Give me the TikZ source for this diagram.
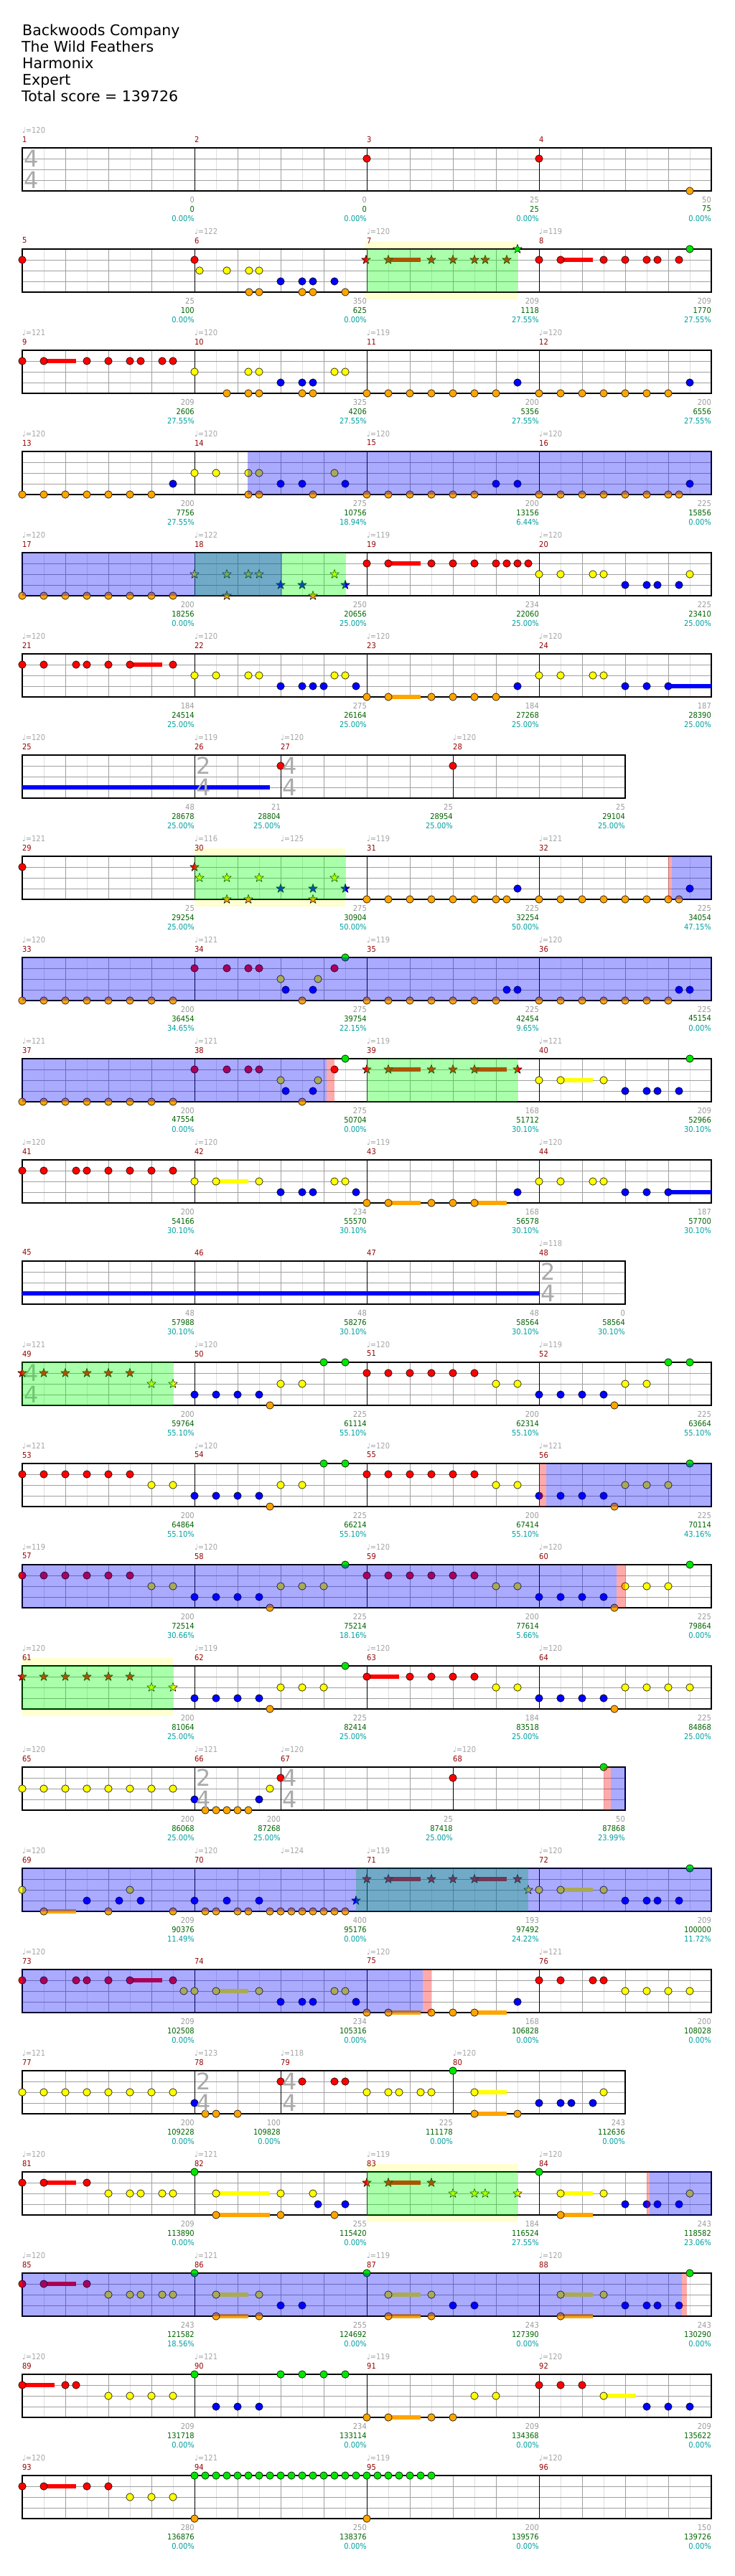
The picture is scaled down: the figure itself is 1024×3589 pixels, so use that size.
\documentclass[tikz,border=0pt]{standalone}
\usepackage{fontspec}
\setmainfont{DejaVu Sans}
\newfontfamily\smallf[FakeStretch=0.9]{DejaVu Sans}
\definecolor{lc0}{RGB}{0,230,0}
\definecolor{lc1}{RGB}{255,0,0}
\definecolor{lc2}{RGB}{255,255,0}
\definecolor{lc3}{RGB}{0,0,255}
\definecolor{lc4}{RGB}{255,165,0}
\definecolor{ovg}{RGB}{0,255,0}
\definecolor{ovb}{RGB}{0,0,255}
\definecolor{ovr}{RGB}{255,0,0}
\definecolor{mnumc}{RGB}{150,0,0}
\definecolor{tempoc}{RGB}{165,165,165}
\definecolor{sgray}{RGB}{155,155,155}
\definecolor{sgreen}{RGB}{0,100,0}
\definecolor{steal}{RGB}{0,160,160}
\definecolor{gridd}{RGB}{160,160,160}
\definecolor{gridl}{RGB}{222,222,222}
\definecolor{ybgc}{RGB}{255,255,208}
\definecolor{tsig}{RGB}{170,170,170}
\tikzset{
  notest/.style={draw=black,line width=0.6pt},
  starst/.style={draw=black,line width=0.5pt},
  mnum/.style={anchor=west,inner sep=0pt,text=mnumc,font=\smallf\fontsize{11}{13}\selectfont},
  tempo/.style={anchor=west,inner sep=0pt,text=tempoc,font=\smallf\fontsize{11}{13}\selectfont},
  bgray/.style={anchor=east,inner sep=0pt,text=sgray,font=\smallf\fontsize{11}{13}\selectfont},
  bgreen/.style={anchor=east,inner sep=0pt,text=sgreen,font=\smallf\fontsize{11}{13}\selectfont},
  bteal/.style={anchor=east,inner sep=0pt,text=steal,font=\smallf\fontsize{11}{13}\selectfont},
  tsg/.style={inner sep=0pt,text=tsig,font=\fontsize{32}{32}\selectfont},
  titlest/.style={anchor=base west,inner sep=0pt,font=\fontsize{20.5}{23}\selectfont}
}
% staff: #1 end x, #2 list of inner measure lines
\newcommand\staff[2]{%
  \fill[white] (31,0) rectangle (#1,60);
  \foreach \xx in {61,121,...,#1}{\draw[gridl,line width=0.9pt] (\xx,0)--(\xx,60);}
  \foreach \xx in {91,151,...,#1}{\draw[gridd,line width=0.9pt] (\xx,0)--(\xx,60);}
  \foreach \yy in {15,30,45}{\draw[gridd,line width=0.9pt] (31,\yy)--(#1,\yy);}
  \foreach \xx in {#2}{\draw[black,line width=0.9pt] (\xx,0)--(\xx,60);}
  \draw[black,line width=1.1pt] (31,0) rectangle (#1,60);}
\newcommand\nn[2]{\foreach \xx in {#2}{\filldraw[notest,fill=lc#1] (\xx,#1*15) circle[radius=5.2pt];}}
\newcommand\starpath{+(90:6.5pt) -- +(126:2.7pt) -- +(162:6.5pt) -- +(198:2.7pt) -- +(234:6.5pt) -- +(270:2.7pt) -- +(306:6.5pt) -- +(342:2.7pt) -- +(18:6.5pt) -- +(54:2.7pt) -- cycle}
\newcommand\sn[2]{\foreach \xx in {#2}{\filldraw[starst,fill=lc#1] (\xx,#1*15) \starpath;}}
\newcommand\su[3]{\fill[lc#1] (#2,{#1*15-3.2}) rectangle (#3,{#1*15+3.2});}
\newcommand\gov[2]{\fill[ovg,fill opacity=0.3333] (#1,0) rectangle (#2,60);}
\newcommand\bov[2]{\fill[ovb,fill opacity=0.3333] (#1,0) rectangle (#2,60);}
\newcommand\pov[2]{\fill[ovr,fill opacity=0.3333] (#1,0) rectangle (#2,60);}
\newcommand\ybg[2]{\fill[ybgc] (#1,-11) rectangle (#2,70);}
\newcommand\mn[2]{\node[mnum] (mn#2) at (#1,-12) {#2};}
\newcommand\tp[3]{\node[tempo] (tp#3) at (#1,-25) {♩=#2};}
\newcommand\bt[5]{\node[bgray] (ba#2) at (#1,72) {#3};
  \node[bgreen] (bb#2) at (#1,85) {#4};
  \node[bteal] (bc#2) at (#1,98) {#5\%};}
\newcommand\ts[4]{\node[tsg] (tsa#4) at (#1+13,15) {#2}; \node[tsg] (tsb#4) at (#1+13,45) {#3};}
\begin{document}
\begin{tikzpicture}[x=1pt,y=-1pt]
\useasboundingbox (0,0) rectangle (1024,3589);
\fill[white] (0,0) rectangle (1024,3589);
\node[titlest] (t1) at (31,50) {Backwoods Company};
\node[titlest] (t2) at (30,73) {The Wild Feathers};
\node[titlest] (t3) at (31,96) {Harmonix};
\node[titlest] (t4) at (31,119) {Expert};
\node[titlest] (t5) at (30,142) {Total score = 139726};
% ---------------- Row 1
\begin{scope}[yshift=-206pt]
\staff{991}{271,511,751}
\mn{31}{1}\mn{271}{2}\mn{511}{3}\mn{751}{4}
\tp{31}{120}{1}
\nn{1}{511,751}\nn{4}{961}
\ts{31}{4}{4}{1}
\bt{271}{1}{0}{0}{0.00}\bt{511}{2}{0}{0}{0.00}\bt{751}{3}{25}{25}{0.00}\bt{991}{4}{50}{75}{0.00}
\end{scope}
% ---------------- Row 2
\begin{scope}[yshift=-347pt]
\ybg{509}{721}
\staff{991}{271,511,751}
\mn{31}{5}\mn{271}{6}\mn{511}{7}\mn{751}{8}
\tp{271}{122}{6}\tp{511}{120}{7}\tp{751}{119}{8}
\su{1}{541}{586}\su{1}{781}{826}
\nn{1}{31,271,751,781,841,871,901,916,946}
\nn{2}{278,316,347,361}
\nn{3}{391,421,436,466}
\nn{4}{347,361,421,436,481}
\nn{0}{961}
\sn{1}{510,541,601,631,661,676,706}\sn{0}{721}
\gov{511}{721}
\bt{271}{5}{25}{100}{0.00}\bt{511}{6}{350}{625}{0.00}\bt{751}{7}{209}{1118}{27.55}\bt{991}{8}{209}{1770}{27.55}
\end{scope}
% ---------------- Row 3
\begin{scope}[yshift=-488pt]
\staff{991}{271,511,751}
\mn{31}{9}\mn{271}{10}\mn{511}{11}\mn{751}{12}
\tp{31}{121}{9}\tp{271}{120}{10}\tp{511}{119}{11}\tp{751}{120}{12}
\su{1}{61}{106}
\nn{1}{31,61,121,151,181,196,226,241}
\nn{2}{271,346,361,466,481}
\nn{3}{391,421,436,721,961}
\nn{4}{316,346,361,421,436,511,541,571,601,631,661,691,751,781,811,841,871,901,931}
\bt{271}{9}{209}{2606}{27.55}\bt{511}{10}{325}{4206}{27.55}\bt{751}{11}{200}{5356}{27.55}\bt{991}{12}{200}{6556}{27.55}
\end{scope}
% ---------------- Row 4
\begin{scope}[yshift=-629pt]
\staff{991}{271,511,751}
\mn{31}{13}\mn{271}{14}\mn{511}{15}\mn{751}{16}
\tp{31}{120}{13}\tp{271}{120}{14}\tp{511}{120}{15}\tp{751}{120}{16}
\nn{4}{31,61,91,121,151,181,211,346,361,436,511,541,571,601,631,661,751,781,811,841,871,901,931,946}
\nn{3}{241,391,421,481,691,721,961}
\nn{2}{271,301,346,361,466}
\bov{345}{991}
\bt{271}{13}{200}{7756}{27.55}\bt{511}{14}{275}{10756}{18.94}\bt{751}{15}{200}{13156}{6.44}\bt{991}{16}{225}{15856}{0.00}
\end{scope}
% ---------------- Row 5
\begin{scope}[yshift=-770pt]
\staff{991}{271,511,751}
\mn{31}{17}\mn{271}{18}\mn{511}{19}\mn{751}{20}
\tp{31}{120}{17}\tp{271}{122}{18}\tp{511}{119}{19}\tp{751}{120}{20}
\nn{4}{31,61,91,121,151,181,211,241}
\sn{2}{271,316,346,361,466}\sn{3}{391,421,481}\sn{4}{316,436}
\su{1}{541}{586}
\nn{1}{511,541,601,631,661,691,706,721,736}
\nn{2}{751,781,826,841,961}
\nn{3}{871,901,916,946}
\gov{271}{481}\bov{31}{393}
\bt{271}{17}{200}{18256}{0.00}\bt{511}{18}{250}{20656}{25.00}\bt{751}{19}{234}{22060}{25.00}\bt{991}{20}{225}{23410}{25.00}
\end{scope}
% ---------------- Row 6
\begin{scope}[yshift=-911pt]
\staff{991}{271,511,751}
\mn{31}{21}\mn{271}{22}\mn{511}{23}\mn{751}{24}
\tp{31}{120}{21}\tp{271}{120}{22}\tp{511}{120}{23}\tp{751}{120}{24}
\su{1}{181}{226}\su{3}{931}{991}\su{4}{541}{586}
\nn{1}{31,61,106,121,151,181,241}
\nn{2}{271,301,346,361,466,481,751,781,826,841}
\nn{3}{391,421,436,451,496,721,871,901,931}
\nn{4}{511,541,601,631,661,691}
\bt{271}{21}{184}{24514}{25.00}\bt{511}{22}{275}{26164}{25.00}\bt{751}{23}{184}{27268}{25.00}\bt{991}{24}{187}{28390}{25.00}
\end{scope}
% ---------------- Row 7
\begin{scope}[yshift=-1052pt]
\staff{871}{271,391,631}
\mn{31}{25}\mn{271}{26}\mn{391}{27}\mn{631}{28}
\tp{31}{120}{25}\tp{271}{119}{26}\tp{391}{120}{27}\tp{631}{120}{28}
\su{3}{31}{376}
\nn{1}{391,631}
\ts{271}{2}{4}{26}\ts{391}{4}{4}{27}
\bt{271}{25}{48}{28678}{25.00}\bt{391}{26}{21}{28804}{25.00}\bt{631}{27}{25}{28954}{25.00}\bt{871}{28}{25}{29104}{25.00}
\end{scope}
% ---------------- Row 8
\begin{scope}[yshift=-1193pt]
\ybg{271}{481}
\staff{991}{271,511,751}
\mn{31}{29}\mn{271}{30}\mn{511}{31}\mn{751}{32}
\tp{31}{121}{29}\tp{271}{116}{30}\tp{391}{125}{30b}\tp{511}{119}{31}\tp{751}{121}{32}
\nn{1}{31}
\sn{1}{271}\sn{2}{278,316,361,466}\sn{3}{391,436,481}\sn{4}{316,346,436}
\nn{4}{511,541,571,601,631,661,691,706,751,781,811,841,871,901,931,946}
\nn{3}{721,961}
\gov{271}{481}\pov{931}{936}\bov{936}{991}
\bt{271}{29}{25}{29254}{25.00}\bt{511}{30}{275}{30904}{50.00}\bt{751}{31}{225}{32254}{50.00}\bt{991}{32}{225}{34054}{47.15}
\end{scope}
% ---------------- Row 9
\begin{scope}[yshift=-1334pt]
\staff{991}{271,511,751}
\mn{31}{33}\mn{271}{34}\mn{511}{35}\mn{751}{36}
\tp{31}{120}{33}\tp{271}{121}{34}\tp{511}{119}{35}\tp{751}{120}{36}
\nn{4}{31,61,91,121,151,181,211,241,421,511,541,571,601,631,661,691,751,781,811,841,871,901,931}
\nn{1}{271,316,346,361,466}
\nn{2}{391,443}
\nn{3}{398,436,706,721,946,961}
\nn{0}{481}
\bov{31}{991}
\bt{271}{33}{200}{36454}{34.65}\bt{511}{34}{275}{39754}{22.15}\bt{751}{35}{225}{42454}{9.65}\bt{991}{36}{225}{45154}{0.00}
\end{scope}
% ---------------- Row 10
\begin{scope}[yshift=-1475pt]
\staff{991}{271,511,751}
\mn{31}{37}\mn{271}{38}\mn{511}{39}\mn{751}{40}
\tp{31}{121}{37}\tp{271}{121}{38}\tp{511}{119}{39}\tp{751}{121}{40}
\nn{4}{31,61,91,121,151,181,211,241,421}
\nn{1}{271,316,346,361,466}
\nn{2}{391,443}
\nn{3}{398,436,871,901,916,946}
\nn{0}{481,961}
\su{1}{541}{586}\su{1}{661}{706}
\sn{1}{511,541,601,631,661,721}
\su{2}{781}{826}
\nn{2}{751,781,841}
\gov{511}{721}\bov{31}{455}\pov{455}{466}
\bt{271}{37}{200}{47554}{0.00}\bt{511}{38}{275}{50704}{0.00}\bt{751}{39}{168}{51712}{30.10}\bt{991}{40}{209}{52966}{30.10}
\end{scope}
% ---------------- Row 11
\begin{scope}[yshift=-1616pt]
\staff{991}{271,511,751}
\mn{31}{41}\mn{271}{42}\mn{511}{43}\mn{751}{44}
\tp{31}{120}{41}\tp{271}{120}{42}\tp{511}{119}{43}\tp{751}{120}{44}
\su{2}{301}{346}\su{3}{931}{991}\su{4}{541}{586}\su{4}{661}{706}
\nn{1}{31,61,106,121,151,181,211,241}
\nn{2}{271,301,361,466,481,751,781,826,841}
\nn{3}{391,421,436,496,721,871,901,931}
\nn{4}{511,541,601,631,661}
\bt{271}{41}{200}{54166}{30.10}\bt{511}{42}{234}{55570}{30.10}\bt{751}{43}{168}{56578}{30.10}\bt{991}{44}{187}{57700}{30.10}
\end{scope}
% ---------------- Row 12
\begin{scope}[yshift=-1757pt]
\staff{871}{271,511,751}
\mn{31}{45}\mn{271}{46}\mn{511}{47}\mn{751}{48}
\tp{751}{118}{48}
\su{3}{31}{751}
\ts{751}{2}{4}{48}
\bt{271}{45}{48}{57988}{30.10}\bt{511}{46}{48}{58276}{30.10}\bt{751}{47}{48}{58564}{30.10}\bt{871}{48}{0}{58564}{30.10}
\end{scope}
% ---------------- Row 13
\begin{scope}[yshift=-1898pt]
\staff{991}{271,511,751}
\mn{31}{49}\mn{271}{50}\mn{511}{51}\mn{751}{52}
\tp{31}{121}{49}\tp{271}{120}{50}\tp{511}{120}{51}\tp{751}{119}{52}
\ts{31}{4}{4}{49}
\sn{1}{31,61,91,121,151,181}\sn{2}{211,241}
\nn{3}{271,301,331,361,751,781,811,841}
\nn{4}{376,856}
\nn{2}{391,421,691,721,871,901}
\nn{0}{451,481,931,961}
\nn{1}{511,541,571,601,631,661}
\gov{31}{241}
\bt{271}{49}{200}{59764}{55.10}\bt{511}{50}{225}{61114}{55.10}\bt{751}{51}{200}{62314}{55.10}\bt{991}{52}{225}{63664}{55.10}
\end{scope}
% ---------------- Row 14
\begin{scope}[yshift=-2039pt]
\staff{991}{271,511,751}
\mn{31}{53}\mn{271}{54}\mn{511}{55}\mn{751}{56}
\tp{31}{121}{53}\tp{271}{120}{54}\tp{511}{120}{55}\tp{751}{121}{56}
\nn{1}{31,61,91,121,151,181,511,541,571,601,631,661}
\nn{2}{211,241,391,421,691,721,871,901,931}
\nn{3}{271,301,331,361,751,781,811,841}
\nn{4}{376,856}
\nn{0}{451,481,961}
\pov{751}{761}\bov{761}{991}
\bt{271}{53}{200}{64864}{55.10}\bt{511}{54}{225}{66214}{55.10}\bt{751}{55}{200}{67414}{55.10}\bt{991}{56}{225}{70114}{43.16}
\end{scope}
% ---------------- Row 15
\begin{scope}[yshift=-2180pt]
\staff{991}{271,511,751}
\mn{31}{57}\mn{271}{58}\mn{511}{59}\mn{751}{60}
\tp{31}{119}{57}\tp{271}{120}{58}\tp{511}{120}{59}\tp{751}{120}{60}
\nn{1}{31,61,91,121,151,181,511,541,571,601,631,661}
\nn{2}{211,241,391,421,451,691,721,871,901,931}
\nn{3}{271,301,331,361,751,781,811,841}
\nn{4}{376,856}
\nn{0}{481,961}
\bov{31}{859}\pov{859}{871}
\bt{271}{57}{200}{72514}{30.66}\bt{511}{58}{225}{75214}{18.16}\bt{751}{59}{200}{77614}{5.66}\bt{991}{60}{225}{79864}{0.00}
\end{scope}
% ---------------- Row 16
\begin{scope}[yshift=-2321pt]
\ybg{31}{241}
\staff{991}{271,511,751}
\mn{31}{61}\mn{271}{62}\mn{511}{63}\mn{751}{64}
\tp{31}{120}{61}\tp{271}{119}{62}\tp{511}{120}{63}\tp{751}{120}{64}
\sn{1}{31,61,91,121,151,181}\sn{2}{211,241}
\nn{3}{271,301,331,361,751,781,811,841}
\nn{4}{376,856}
\nn{2}{391,421,451,691,721,871,901,931,961}
\nn{0}{481}
\su{1}{511}{556}\nn{1}{511,571,601,631,661}
\gov{31}{241}
\bt{271}{61}{200}{81064}{25.00}\bt{511}{62}{225}{82414}{25.00}\bt{751}{63}{184}{83518}{25.00}\bt{991}{64}{225}{84868}{25.00}
\end{scope}
% ---------------- Row 17
\begin{scope}[yshift=-2462pt]
\staff{871}{271,391,631}
\mn{31}{65}\mn{271}{66}\mn{391}{67}\mn{631}{68}
\tp{31}{120}{65}\tp{271}{121}{66}\tp{391}{120}{67}\tp{631}{120}{68}
\nn{2}{31,61,91,121,151,181,211,241,376}
\nn{3}{271,361}
\nn{4}{286,301,316,331,346}
\nn{1}{391,631}
\nn{0}{841}
\ts{271}{2}{4}{66}\ts{391}{4}{4}{67}
\pov{841}{851}\bov{851}{871}
\bt{271}{65}{200}{86068}{25.00}\bt{391}{66}{200}{87268}{25.00}\bt{631}{67}{25}{87418}{25.00}\bt{871}{68}{50}{87868}{23.99}
\end{scope}
% ---------------- Row 18
\begin{scope}[yshift=-2603pt]
\staff{991}{271,511,751}
\mn{31}{69}\mn{271}{70}\mn{511}{71}\mn{751}{72}
\tp{31}{120}{69}\tp{271}{120}{70}\tp{391}{124}{70b}\tp{511}{119}{71}\tp{751}{120}{72}
\su{4}{61}{106}\su{1}{541}{586}\su{1}{661}{706}\su{2}{781}{826}
\nn{2}{31,181,751,781,841}
\nn{4}{61,151,241,286,301,331,346,376,391,406,421,436,451,466,481}
\nn{3}{121,166,196,271,316,361,871,901,916,946}
\sn{3}{496}\sn{1}{511,541,601,631,661,721}\sn{2}{736}
\nn{0}{961}
\gov{496}{736}\bov{31}{991}
\bt{271}{69}{209}{90376}{11.49}\bt{511}{70}{400}{95176}{0.00}\bt{751}{71}{193}{97492}{24.22}\bt{991}{72}{209}{100000}{11.72}
\end{scope}
% ---------------- Row 19
\begin{scope}[yshift=-2744pt]
\staff{991}{271,511,751}
\mn{31}{73}\mn{271}{74}\mn{511}{75}\mn{751}{76}
\tp{31}{120}{73}\tp{511}{120}{75}\tp{751}{121}{76}
\su{1}{181}{226}\su{2}{301}{346}\su{4}{541}{586}\su{4}{661}{706}
\nn{1}{31,61,106,121,151,181,241,751,781,826,841}
\nn{2}{256,271,301,361,466,481,871,901,931,961}
\nn{3}{391,421,436,496,721}
\nn{4}{511,541,601,631,661}
\bov{31}{589}\pov{589}{601}
\bt{271}{73}{209}{102508}{0.00}\bt{511}{74}{234}{105316}{0.00}\bt{751}{75}{168}{106828}{0.00}\bt{991}{76}{200}{108028}{0.00}
\end{scope}
% ---------------- Row 20
\begin{scope}[yshift=-2885pt]
\staff{871}{271,391,631}
\mn{31}{77}\mn{271}{78}\mn{391}{79}\mn{631}{80}
\tp{31}{121}{77}\tp{271}{123}{78}\tp{391}{118}{79}\tp{631}{120}{80}
\su{2}{661}{706}\su{4}{661}{706}
\nn{2}{31,61,91,121,151,181,211,241,511,541,556,586,601,661,841}
\nn{3}{271,751,781,796,826}
\nn{4}{286,301,331,661,721}
\nn{1}{391,421,466,481}
\nn{0}{631}
\ts{271}{2}{4}{78}\ts{391}{4}{4}{79}
\bt{271}{77}{200}{109228}{0.00}\bt{391}{78}{100}{109828}{0.00}\bt{631}{79}{225}{111178}{0.00}\bt{871}{80}{243}{112636}{0.00}
\end{scope}
% ---------------- Row 21
\begin{scope}[yshift=-3026pt]
\ybg{511}{721}
\staff{991}{271,511,751}
\mn{31}{81}\mn{271}{82}\mn{511}{83}\mn{751}{84}
\tp{31}{120}{81}\tp{271}{121}{82}\tp{511}{119}{83}\tp{751}{120}{84}
\su{1}{61}{106}\su{2}{301}{376}\su{4}{301}{376}\su{2}{781}{826}\su{4}{781}{826}\su{1}{541}{586}
\nn{1}{31,61,121}
\nn{2}{151,181,196,226,241,301,391,436,781,841,961}
\nn{0}{271,751}
\nn{4}{301,391,466,781}
\nn{3}{443,481,871,901,916,946}
\sn{1}{511,541,601}\sn{2}{631,661,676,721}
\gov{511}{721}\pov{901}{905}\bov{905}{991}
\bt{271}{81}{209}{113890}{0.00}\bt{511}{82}{255}{115420}{0.00}\bt{751}{83}{184}{116524}{27.55}\bt{991}{84}{243}{118582}{23.06}
\end{scope}
% ---------------- Row 22
\begin{scope}[yshift=-3167pt]
\staff{991}{271,511,751}
\mn{31}{85}\mn{271}{86}\mn{511}{87}\mn{751}{88}
\tp{31}{120}{85}\tp{271}{121}{86}\tp{511}{119}{87}\tp{751}{120}{88}
\su{1}{61}{106}\su{2}{301}{346}\su{4}{301}{346}\su{2}{541}{586}\su{4}{541}{586}\su{2}{781}{826}\su{4}{781}{826}
\nn{1}{31,61,121}
\nn{2}{151,181,196,226,241,301,361,541,601,781,841}
\nn{0}{271,511,961}
\nn{4}{301,361,541,601,781}
\nn{3}{391,421,631,661,871,901,916,946}
\bov{31}{950}\pov{950}{957}
\bt{271}{85}{243}{121582}{18.56}\bt{511}{86}{255}{124692}{0.00}\bt{751}{87}{243}{127390}{0.00}\bt{991}{88}{243}{130290}{0.00}
\end{scope}
% ---------------- Row 23
\begin{scope}[yshift=-3308pt]
\staff{991}{271,511,751}
\mn{31}{89}\mn{271}{90}\mn{511}{91}\mn{751}{92}
\tp{31}{120}{89}\tp{271}{121}{90}\tp{511}{119}{91}\tp{751}{120}{92}
\su{1}{31}{76}\su{4}{541}{586}\su{2}{841}{886}
\nn{1}{31,91,106,751,781,811}
\nn{2}{151,181,211,241,661,691,841}
\nn{0}{271,391,421,451,481}
\nn{3}{301,331,361,901,931,961}
\nn{4}{511,541,601,631}
\bt{271}{89}{209}{131718}{0.00}\bt{511}{90}{234}{133114}{0.00}\bt{751}{91}{209}{134368}{0.00}\bt{991}{92}{209}{135622}{0.00}
\end{scope}
% ---------------- Row 24
\begin{scope}[yshift=-3449pt]
\staff{991}{271,511,751}
\mn{31}{93}\mn{271}{94}\mn{511}{95}\mn{751}{96}
\tp{31}{120}{93}\tp{271}{121}{94}\tp{511}{119}{95}\tp{751}{120}{96}
\su{1}{61}{106}
\nn{1}{31,61,121,151}
\nn{2}{181,211,241}
\nn{0}{271,286,301,316,331,346,361,376,391,406,421,436,451,466,481,496,511,526,541,556,571,586,601}
\nn{4}{271,511}
\bt{271}{93}{280}{136876}{0.00}\bt{511}{94}{250}{138376}{0.00}\bt{751}{95}{200}{139576}{0.00}\bt{991}{96}{150}{139726}{0.00}
\end{scope}
\end{tikzpicture}
\end{document}
